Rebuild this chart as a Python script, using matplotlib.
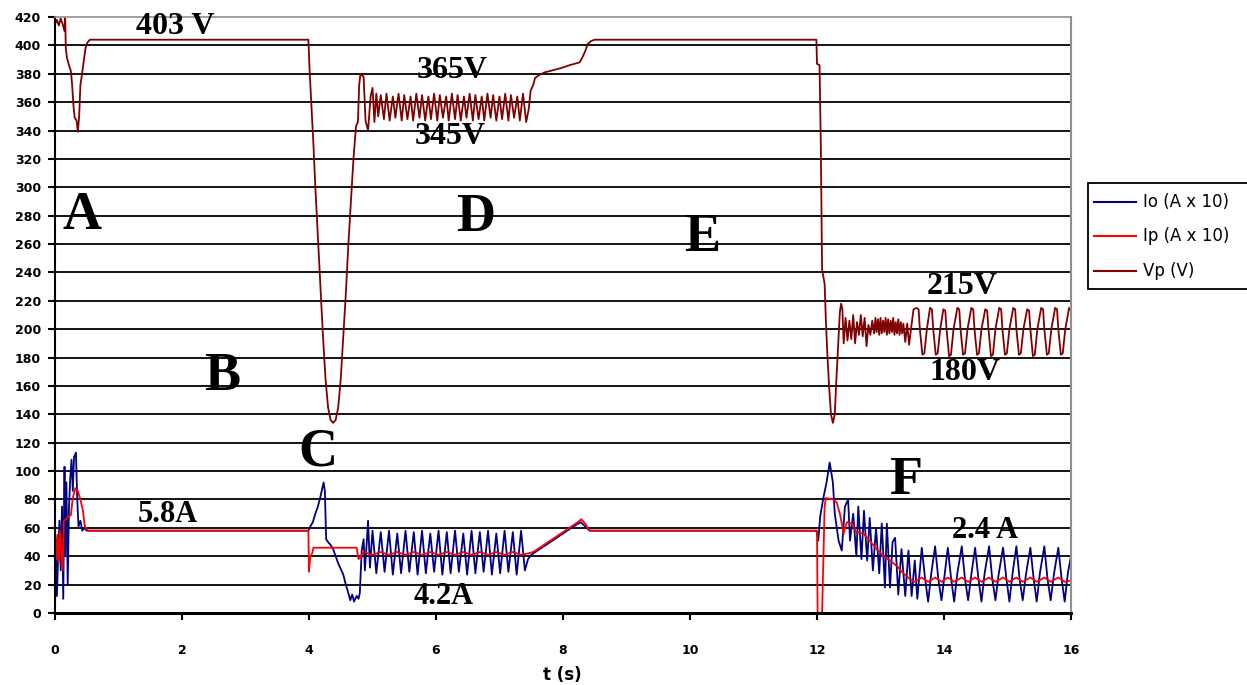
import matplotlib
matplotlib.use("Agg")
import matplotlib.pyplot as plt
from matplotlib.patches import Rectangle
from matplotlib.lines import Line2D

# ---------------- data (time s, value) ----------------
vp_points = [
    (0.00, 361), (0.00, 415), (0.03, 418), (0.06, 414), (0.09, 419), (0.12, 415), (0.15, 410), (0.16, 421),
    (0.17, 398), (0.19, 391), (0.22, 386), (0.25, 382), (0.27, 372), (0.29, 358), (0.31, 349), (0.34, 347),
    (0.36, 339), (0.38, 350), (0.40, 372), (0.42, 378), (0.45, 388), (0.48, 398), (0.51, 402), (0.55, 404),
    (3.99, 404),
    (4.01, 382), (4.04, 356), (4.07, 330), (4.10, 300), (4.14, 265), (4.18, 230), (4.22, 195), (4.26, 165),
    (4.30, 145), (4.34, 136), (4.38, 134), (4.42, 136), (4.46, 145), (4.50, 165), (4.54, 195), (4.58, 225),
    (4.62, 260), (4.66, 290), (4.70, 320), (4.74, 343), (4.77, 346), (4.79, 372), (4.81, 380), (4.83, 379),
    (4.86, 378), (4.89, 347), (4.93, 340), (4.97, 364), (5.00, 370), (5.03, 346), (5.06, 366), (5.09, 350),
    (5.13, 365), (5.18, 348), (5.22, 366), (5.27, 347), (5.32, 364), (5.36, 349), (5.41, 366), (5.46, 347),
    (5.50, 365), (5.55, 348), (5.60, 364), (5.64, 347), (5.69, 366), (5.74, 349), (5.78, 365), (5.83, 347),
    (5.88, 364), (5.92, 348), (5.97, 366), (6.02, 347), (6.06, 365), (6.11, 349), (6.16, 364), (6.20, 347),
    (6.25, 366), (6.30, 348), (6.34, 365), (6.39, 347), (6.44, 364), (6.48, 349), (6.53, 366), (6.58, 347),
    (6.62, 365), (6.67, 348), (6.72, 364), (6.76, 347), (6.81, 366), (6.86, 349), (6.90, 365), (6.95, 347),
    (7.00, 364), (7.04, 348), (7.09, 366), (7.14, 347), (7.18, 365), (7.23, 349), (7.28, 364), (7.32, 347),
    (7.37, 366), (7.42, 346), (7.46, 355),
    (7.49, 368), (7.53, 372), (7.56, 377), (7.62, 379), (7.71, 381), (7.80, 382), (7.97, 384), (8.10, 386),
    (8.26, 388), (8.30, 391), (8.35, 396), (8.39, 401), (8.44, 403), (8.50, 404),
    (11.99, 404),
    (12.00, 387), (12.04, 386), (12.06, 330), (12.08, 242), (12.12, 232), (12.14, 206), (12.16, 185), (12.19, 160),
    (12.22, 140), (12.25, 134), (12.28, 140), (12.30, 160), (12.33, 186), (12.36, 212), (12.38, 218), (12.40, 214),
    (12.42, 190), (12.45, 208), (12.48, 192), (12.51, 206), (12.54, 193), (12.57, 210), (12.60, 190), (12.63, 205),
    (12.66, 196), (12.69, 210), (12.72, 195), (12.75, 208), (12.78, 188), (12.81, 203), (12.84, 196), (12.87, 206),
    (12.90, 197), (12.92, 208), (12.94, 198), (12.96, 207), (12.98, 196), (13.00, 208), (13.02, 197), (13.04, 206),
    (13.06, 198), (13.08, 208), (13.10, 196), (13.12, 207), (13.14, 197), (13.16, 206), (13.18, 198), (13.20, 208),
    (13.22, 196), (13.24, 205), (13.26, 197), (13.28, 207), (13.30, 196), (13.32, 205), (13.34, 197), (13.36, 204),
    (13.39, 191), (13.42, 204), (13.45, 189), (13.48, 200), (13.52, 214),
    (13.57, 215), (13.60, 214), (13.62, 200), (13.66, 182), (13.69, 183), (13.73, 200),
    (13.78, 215), (13.81, 214), (13.83, 200), (13.87, 182), (13.90, 183), (13.94, 200),
    (13.99, 214), (14.02, 213), (14.04, 200), (14.08, 181), (14.11, 182), (14.15, 200),
    (14.21, 215), (14.24, 214), (14.26, 200), (14.30, 182), (14.33, 183), (14.37, 200),
    (14.43, 215), (14.46, 214), (14.48, 200), (14.52, 182), (14.55, 183), (14.59, 200),
    (14.65, 214), (14.68, 213), (14.70, 200), (14.74, 181), (14.77, 182), (14.81, 200),
    (14.87, 215), (14.90, 214), (14.92, 200), (14.96, 182), (14.99, 183), (15.03, 200),
    (15.09, 215), (15.12, 214), (15.14, 200), (15.18, 182), (15.21, 183), (15.25, 200),
    (15.31, 214), (15.34, 213), (15.36, 200), (15.40, 181), (15.43, 182), (15.47, 200),
    (15.53, 215), (15.56, 214), (15.58, 200), (15.62, 182), (15.65, 183), (15.69, 200),
    (15.75, 215), (15.78, 214), (15.80, 200), (15.84, 182), (15.87, 183), (15.91, 200),
    (15.97, 215), (16.00, 213),
]

io_points = [
    (0.00, 0), (0.01, 38), (0.03, 12), (0.05, 40), (0.07, 65), (0.09, 30), (0.11, 75), (0.13, 10),
    (0.15, 103), (0.16, 40), (0.18, 92), (0.20, 20), (0.22, 74), (0.24, 95), (0.26, 108), (0.28, 86),
    (0.30, 110), (0.33, 113), (0.35, 80), (0.37, 61), (0.40, 65), (0.43, 58), (0.46, 60), (0.50, 58),
    (3.99, 58),
    (4.02, 61), (4.06, 64), (4.10, 70), (4.14, 75), (4.18, 82), (4.21, 88), (4.23, 92), (4.25, 86),
    (4.27, 52), (4.30, 50), (4.34, 48), (4.38, 45), (4.42, 40), (4.46, 35), (4.50, 31), (4.54, 27),
    (4.58, 20), (4.62, 14), (4.65, 9), (4.68, 13), (4.71, 8), (4.75, 12), (4.78, 10), (4.80, 14),
    (4.83, 44), (4.86, 52), (4.88, 30), (4.91, 50), (4.93, 65), (4.96, 32),
    (5.00, 58), (5.06, 28), (5.13, 57), (5.19, 29), (5.26, 58), (5.32, 27), (5.39, 56), (5.45, 28),
    (5.52, 58), (5.58, 29), (5.65, 57), (5.71, 27), (5.78, 58), (5.84, 28), (5.91, 56), (5.97, 29),
    (6.04, 58), (6.10, 27), (6.17, 57), (6.23, 28), (6.30, 58), (6.36, 29), (6.43, 56), (6.49, 27),
    (6.56, 58), (6.62, 28), (6.69, 57), (6.75, 29), (6.82, 58), (6.88, 27), (6.95, 56), (7.01, 28),
    (7.08, 58), (7.14, 29), (7.21, 57), (7.27, 27), (7.34, 58), (7.40, 30), (7.45, 38),
    (7.50, 41), (7.60, 44), (7.70, 47), (7.80, 50), (7.90, 53), (8.00, 56), (8.10, 59), (8.20, 62),
    (8.28, 64), (8.35, 61), (8.42, 58),
    (11.99, 58),
    (12.02, 51), (12.05, 68), (12.10, 81), (12.15, 92), (12.20, 106), (12.25, 92), (12.28, 70), (12.34, 51),
    (12.39, 44), (12.44, 75), (12.49, 80), (12.52, 51), (12.57, 70), (12.62, 40), (12.65, 75), (12.70, 38),
    (12.74, 72), (12.79, 37), (12.83, 67), (12.88, 30), (12.93, 60), (12.98, 28), (13.02, 63), (13.07, 18),
    (13.10, 63), (13.15, 18), (13.19, 50), (13.23, 53), (13.28, 13), (13.33, 45), (13.39, 12), (13.44, 44),
    (13.49, 12), (13.54, 37), (13.58, 10),
    (13.65, 46), (13.70, 25), (13.75, 8), (13.80, 28),
    (13.86, 47), (13.91, 24), (13.96, 9), (14.01, 27),
    (14.06, 46), (14.11, 25), (14.16, 8), (14.21, 28),
    (14.28, 47), (14.33, 24), (14.38, 9), (14.43, 27),
    (14.49, 46), (14.54, 25), (14.59, 8), (14.64, 28),
    (14.71, 47), (14.76, 24), (14.81, 9), (14.86, 27),
    (14.93, 46), (14.98, 25), (15.03, 8), (15.08, 28),
    (15.14, 47), (15.19, 24), (15.24, 9), (15.29, 27),
    (15.36, 46), (15.41, 25), (15.46, 8), (15.51, 28),
    (15.58, 47), (15.63, 24), (15.68, 9), (15.73, 27),
    (15.80, 46), (15.85, 25), (15.90, 8), (15.95, 28), (16.00, 40),
]

ip_points = [
    (0.00, 85), (0.00, 60), (0.02, 38), (0.04, 55), (0.06, 36), (0.08, 58), (0.10, 45), (0.12, 30),
    (0.14, 65), (0.17, 66), (0.21, 68), (0.25, 69), (0.28, 81), (0.32, 88), (0.36, 86), (0.40, 80),
    (0.44, 72), (0.47, 61), (0.52, 58),
    (3.99, 58), (4.00, 29), (4.02, 40), (4.05, 42), (4.07, 46), (4.75, 46), (4.78, 38), (4.82, 40), (4.86, 43),
    (5.00, 41), (5.13, 43), (5.26, 41), (5.39, 43), (5.52, 41), (5.65, 43), (5.78, 41), (5.91, 43),
    (6.04, 41), (6.17, 43), (6.30, 41), (6.43, 43), (6.56, 41), (6.69, 43), (6.82, 41), (6.95, 43),
    (7.08, 41), (7.21, 43), (7.34, 41), (7.45, 42),
    (7.53, 43), (7.60, 45), (7.70, 48), (7.80, 51), (7.90, 54), (8.00, 57), (8.10, 60), (8.20, 63),
    (8.29, 66), (8.35, 63), (8.40, 59), (8.45, 58),
    (12.00, 58), (12.01, 0), (12.08, 0), (12.10, 37), (12.12, 75), (12.14, 81), (12.25, 80), (12.31, 78),
    (12.36, 70), (12.42, 56), (12.47, 64), (12.55, 63), (12.62, 57), (12.73, 56), (12.83, 51), (12.94, 45),
    (13.05, 40), (13.15, 37), (13.26, 33), (13.36, 28), (13.46, 24), (13.54, 22),
    (13.65, 25), (13.75, 22), (13.86, 25), (13.96, 22), (14.06, 25), (14.16, 22), (14.28, 25), (14.38, 22),
    (14.49, 25), (14.59, 22), (14.71, 25), (14.81, 22), (14.93, 25), (15.03, 22), (15.14, 25), (15.24, 22),
    (15.36, 25), (15.46, 22), (15.58, 25), (15.68, 22), (15.80, 25), (15.90, 22), (16.00, 23),
]

series_labels = ["Io (A x 10)", "Ip (A x 10)", "Vp (V)"]
series_colors = ["#000080", "#FF0000", "#800000"]

y_ticks = list(range(0, 421, 20))
x_ticks = list(range(0, 17, 2))

# annotations: (text, x_px, y_px, fontsize)
annotations = [
    ("403 V", 175, 27, 23), ("365V", 452, 71, 23), ("345V", 450, 136, 23),
    ("215V", 962, 286, 23), ("180V", 965, 372, 23),
    ("5.8A", 168, 515, 22), ("4.2A", 444, 597, 22), ("2.4 A", 985, 530, 22),
    ("A", 82, 216, 39), ("B", 222, 377, 39), ("C", 318, 452, 39),
    ("D", 476, 218, 39), ("E", 702, 238, 39), ("F", 906, 481, 39),
]

# ---------------- figure ----------------
W, H = 1247, 685
fig = plt.figure(figsize=(W / 100, H / 100), dpi=100)
L, R, T, B = 55, 1071, 17, 613
ax = fig.add_axes([L / W, 1 - B / H, (R - L) / W, (B - T) / H])
ax.set_xlim(0, 16)
ax.set_ylim(0, 420)

ax.hlines([y for y in y_ticks if 0 < y < 420], 0, 16, colors="black", lw=1.3, zorder=0.5)

for pts, col in zip([io_points, ip_points, vp_points], series_colors):
    t = [p[0] for p in pts]
    v = [p[1] for p in pts]
    ax.plot(t, v, color=col, lw=1.3, zorder=2)

ax.set_xticks(x_ticks)
ax.set_yticks(y_ticks)
ax.tick_params(axis="x", direction="out", length=5, width=1.5, pad=17, labelsize=9)
ax.tick_params(axis="y", direction="out", length=5, width=1.5, pad=5, labelsize=9)
for lab in ax.get_xticklabels() + ax.get_yticklabels():
    lab.set_fontweight("bold")
    lab.set_family("DejaVu Sans")

ax.spines["left"].set_color("black")
ax.spines["left"].set_linewidth(1.5)
ax.spines["bottom"].set_color("black")
ax.spines["bottom"].set_linewidth(2.2)
ax.spines["top"].set_color("#909090")
ax.spines["top"].set_linewidth(1.2)
ax.spines["right"].set_color("#909090")
ax.spines["right"].set_linewidth(1.5)

fig.text(562 / W, 1 - 675 / H, "t (s)", ha="center", va="center",
         fontsize=12, fontweight="bold", family="DejaVu Sans")

for txt, xp, yp, fs in annotations:
    fig.text(xp / W, 1 - yp / H, txt, ha="center", va="center", fontsize=fs,
             fontweight="bold", family="Liberation Serif", zorder=5)

# legend box (drawn in figure pixels)
lx0, ly0, lx1, ly1 = 1088, 183, 1262, 289
fig.patches.append(Rectangle((lx0 / W, 1 - ly1 / H), (lx1 - lx0) / W, (ly1 - ly0) / H,
                             transform=fig.transFigure, facecolor="white",
                             edgecolor="black", lw=1.3))
for i, (lab, col) in enumerate(zip(series_labels, series_colors)):
    yy = 202 + i * 34.5
    fig.lines.append(Line2D([1094 / W, 1136 / W], [1 - yy / H, 1 - yy / H],
                            transform=fig.transFigure, color=col, lw=1.5))
    fig.text(1143 / W, 1 - yy / H, lab, ha="left", va="center", fontsize=12,
             family="DejaVu Sans")

fig.savefig("out.png", dpi=100)
